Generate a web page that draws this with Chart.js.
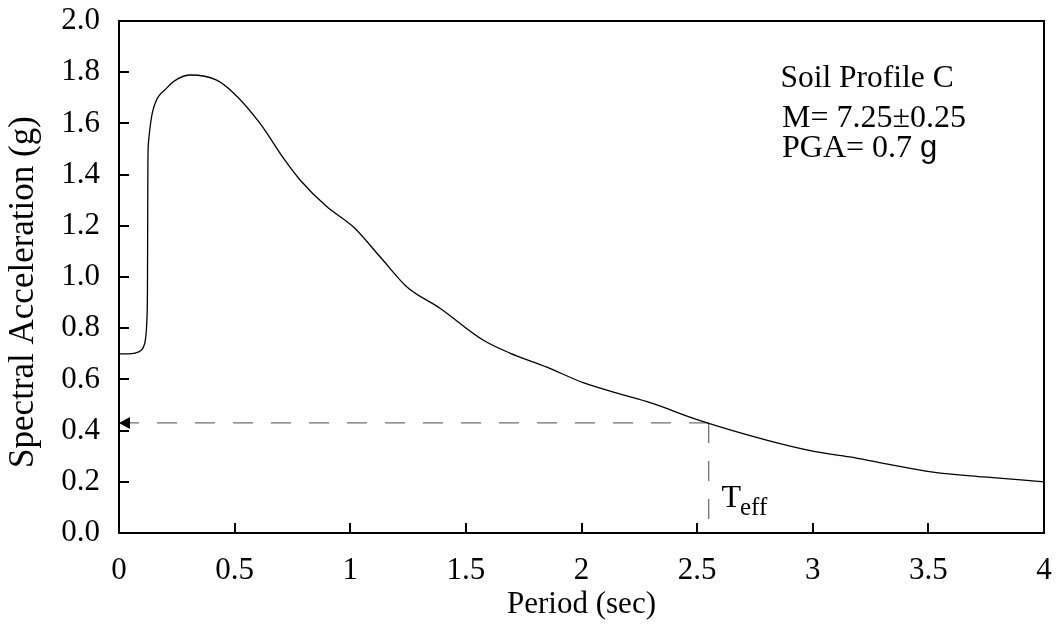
<!DOCTYPE html>
<html>
<head>
<meta charset="utf-8">
<script src="https://cdn.jsdelivr.net/npm/chart.js@4/dist/chart.umd.min.js"></script>
<style>
  html, body { margin: 0; padding: 0; background: #fff; }
  #wrap { width: 1058px; height: 628px; }
</style>
</head>
<body>
<div id="wrap"><canvas id="chart" width="1058" height="628"></canvas></div>
<script>
// spectrum
const periods = [0, 0.04, 0.07, 0.09, 0.105, 0.115, 0.12, 0.123, 0.124, 0.125, 0.128, 0.135, 0.147, 0.21, 0.25,
  0.31, 0.42, 0.494, 0.61, 0.711, 0.783, 0.898, 1.013, 1.129, 1.244, 1.388, 1.574, 1.69, 1.85,
  2.01, 2.15, 2.3, 2.51, 2.8, 3.0, 3.16, 3.3, 3.52, 3.74, 4.0];
const spectralAcc = [0.70, 0.70, 0.703, 0.71, 0.725, 0.76, 0.82, 0.95, 1.2, 1.45, 1.53, 1.59, 1.652, 1.742, 1.772,
  1.789, 1.77, 1.72, 1.60, 1.464, 1.379, 1.275, 1.196, 1.079, 0.962, 0.878, 0.754, 0.703, 0.648,
  0.586, 0.547, 0.508, 0.44, 0.363, 0.32, 0.297, 0.273, 0.238, 0.219, 0.20];

const teffPeriod = 2.55;
const teffSa = 0.43;

const xTickLabels = ['0', '0.5', '1', '1.5', '2', '2.5', '3', '3.5', '4'];
const yTickLabels = ['0.0', '0.2', '0.4', '0.6', '0.8', '1.0', '1.2', '1.4', '1.6', '1.8', '2.0'];

const yTitle = 'Spectral Acceleration (g)';
const noteLines = ['Soil Profile C', 'M= 7.25\u00b10.25', 'PGA= 0.7 '];

const serif = '"Liberation Serif", "Times New Roman", serif';
const sans = '"Liberation Sans", Arial, sans-serif';

const curve = periods.map((p, i) => ({ x: p, y: spectralAcc[i] }));

// frame, inward ticks, arrow head, y title and text notes
const decorations = {
  id: 'decorations',
  afterDraw(chart) {
    const { ctx, chartArea: a, scales: { x, y } } = chart;
    ctx.save();
    ctx.strokeStyle = '#000';
    ctx.lineWidth = 2;
    ctx.strokeRect(a.left, a.top, a.right - a.left, a.bottom - a.top);

    ctx.beginPath();
    x.ticks.forEach(t => {
      const px = Math.round(x.getPixelForValue(t.value));
      ctx.moveTo(px, a.bottom);
      ctx.lineTo(px, a.bottom - 10);
    });
    y.ticks.forEach(t => {
      const py = Math.round(y.getPixelForValue(t.value));
      ctx.moveTo(a.left, py);
      ctx.lineTo(a.left + 10, py);
    });
    ctx.stroke();

    // arrow at the end of the horizontal dashed line
    const ax = x.getPixelForValue(0);
    const ay = y.getPixelForValue(teffSa);
    ctx.fillStyle = '#000';
    ctx.beginPath();
    ctx.moveTo(ax, ay);
    ctx.lineTo(ax + 11, ay - 6);
    ctx.lineTo(ax + 11, ay + 6);
    ctx.closePath();
    ctx.fill();

    // y axis title, sits a little below the plot centre in the original
    ctx.save();
    ctx.translate(24, (a.top + a.bottom) / 2 + 15);
    ctx.rotate(-Math.PI / 2);
    ctx.textAlign = 'center';
    ctx.textBaseline = 'middle';
    ctx.font = '35px ' + serif;
    ctx.fillText(yTitle, 0, 0);
    ctx.restore();

    // notes
    ctx.textBaseline = 'alphabetic';
    ctx.textAlign = 'left';
    ctx.font = '31.5px ' + serif;
    ctx.fillText(noteLines[0], x.getPixelForValue(2.86), y.getPixelForValue(1.742));
    ctx.font = '32px ' + serif;
    ctx.fillText(noteLines[1], x.getPixelForValue(2.867), y.getPixelForValue(1.586));
    const px3 = x.getPixelForValue(2.867);
    const py3 = y.getPixelForValue(1.469);
    ctx.fillText(noteLines[2], px3, py3);
    const w3 = ctx.measureText(noteLines[2]).width;
    ctx.font = '31px ' + sans;
    ctx.fillText('g', px3 + w3, py3);

    // T_eff label
    ctx.font = '32px ' + serif;
    const tx = x.getPixelForValue(2.605);
    const ty = y.getPixelForValue(0.103);
    ctx.fillText('T', tx, ty);
    const tw = ctx.measureText('T').width;
    ctx.font = '25px ' + serif;
    ctx.fillText('eff', tx + tw - 1, ty + 8);
    ctx.restore();
  }
};

new Chart(document.getElementById('chart'), {
  type: 'scatter',
  data: {
    datasets: [
      {
        data: curve,
        showLine: true,
        borderColor: '#000',
        borderWidth: 1.3,
        pointRadius: 0,
        cubicInterpolationMode: 'monotone'
      },
      {
        data: [{ x: 0, y: teffSa }, { x: teffPeriod, y: teffSa }],
        showLine: true,
        borderColor: '#707070',
        borderWidth: 1.3,
        borderDash: [20, 18],
        pointRadius: 0
      },
      {
        data: [{ x: teffPeriod, y: teffSa }, { x: teffPeriod, y: 0 }],
        showLine: true,
        borderColor: '#707070',
        borderWidth: 1.3,
        borderDash: [20, 18],
        pointRadius: 0
      }
    ]
  },
  options: {
    responsive: false,
    animation: false,
    layout: { padding: { top: 21, right: 14, left: 0, bottom: 0 } },
    plugins: { legend: { display: false }, tooltip: { enabled: false } },
    scales: {
      x: {
        type: 'linear',
        min: 0,
        max: 4,
        // invisible tick marks give the label gap without extra edge padding
        grid: { drawOnChartArea: false, drawTicks: true, tickLength: 19, tickColor: 'rgba(0,0,0,0)' },
        border: { display: false },
        afterFit: s => { s.height = 95; },
        ticks: {
          stepSize: 0.5,
          padding: 0,
          color: '#000',
          font: { family: serif, size: 31 },
          maxRotation: 0,
          callback: v => xTickLabels[Math.round(v / 0.5)]
        },
        title: {
          display: true,
          text: 'Period (sec)',
          color: '#000',
          font: { family: serif, size: 31 },
          padding: { top: 0, bottom: 5 }
        }
      },
      y: {
        type: 'linear',
        min: 0,
        max: 2,
        grid: { drawOnChartArea: false, drawTicks: true, tickLength: 19, tickColor: 'rgba(0,0,0,0)' },
        border: { display: false },
        afterFit: s => { s.width = 119; },
        ticks: {
          stepSize: 0.2,
          padding: 0,
          color: '#000',
          font: { family: serif, size: 31 },
          callback: v => yTickLabels[Math.round(v / 0.2)]
        },
        title: { display: false }
      }
    }
  },
  plugins: [decorations]
});
</script>
</body>
</html>
